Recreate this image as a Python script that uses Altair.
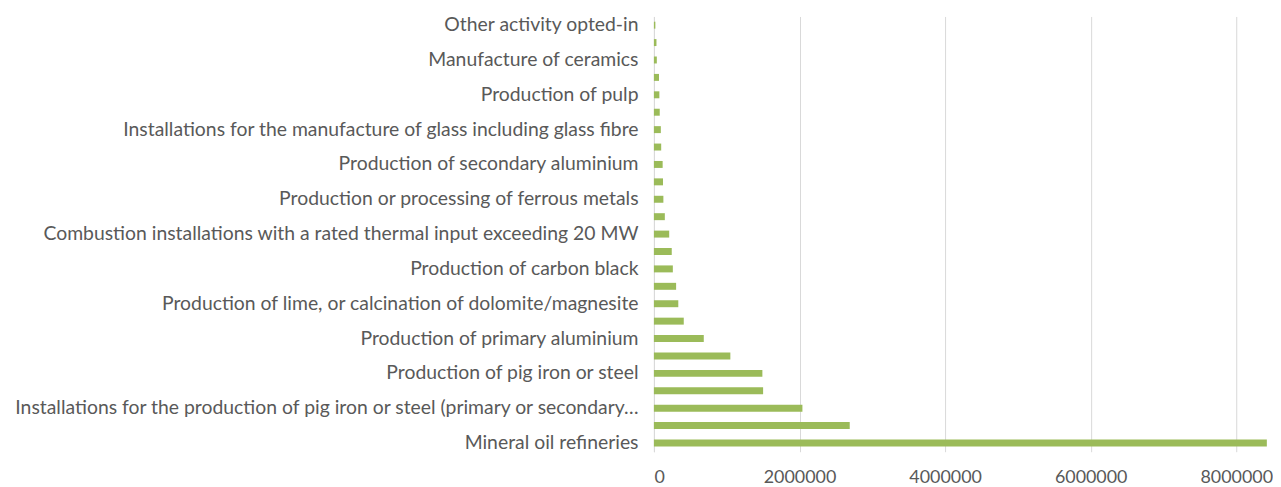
import altair as alt
import pandas as pd

# Categories from top to bottom (only every other one is labelled in the reference)
categories = [
    "Other activity opted-in",
    "Production of gypsum or plaster",
    "Manufacture of ceramics",
    "Manufacture of mineral wool",
    "Production of pulp",
    "Production of nitric acid",
    "Installations for the manufacture of glass including glass fibre",
    "Production of non-ferrous metals",
    "Production of secondary aluminium",
    "Production of bulk organic chemicals",
    "Production or processing of ferrous metals",
    "Production of hydrogen and synthesis gas",
    "Combustion installations with a rated thermal input exceeding 20 MW",
    "Production of ammonia",
    "Production of carbon black",
    "Production of soda ash and sodium bicarbonate",
    "Production of lime, or calcination of dolomite/magnesite",
    "Production of paper or cardboard",
    "Production of primary aluminium",
    "Production of cement clinker",
    "Production of pig iron or steel",
    "Production of coke",
    "Installations for the production of pig iron or steel (primary or secondary…",
    "Combustion of fuels",
    "Mineral oil refineries",
]

values = [
    20000, 35000, 40000, 70000, 75000, 80000, 95000, 100000, 120000,
    125000, 130000, 150000, 210000, 245000, 260000, 305000, 335000,
    410000, 685000, 1050000, 1490000, 1500000, 2040000, 2690000, 8420000,
]

shown_labels = categories[0::2]
x_ticks = [0, 2000000, 4000000, 6000000, 8000000]

df = pd.DataFrame({"activity": categories, "value": values})

font = "Lato"
text_color = "#595959"

chart = (
    alt.Chart(df)
    .mark_bar(color="#9BBB59")
    .encode(
        x=alt.X(
            "value:Q",
            scale=alt.Scale(domain=[0, 8450000], nice=False, zero=True),
            axis=alt.Axis(
                title=None,
                values=x_ticks,
                format="d",
                grid=True,
                gridColor="#d9d9d9",
                gridWidth=1,
                domain=False,
                ticks=False,
                labelFont=font,
                labelFontSize=18,
                labelColor=text_color,
                labelPadding=17,
                labelOverlap=False,
            ),
        ),
        y=alt.Y(
            "activity:N",
            sort=categories,
            scale=alt.Scale(paddingInner=0.6, paddingOuter=0.3),
            axis=alt.Axis(
                title=None,
                values=shown_labels,
                domain=True,
                domainColor="#d9d9d9",
                domainWidth=1,
                ticks=False,
                labelFont=font,
                labelFontSize=19.5,
                labelColor=text_color,
                labelPadding=16,
                labelLimit=800,
                labelOverlap=False,
            ),
        ),
    )
    .properties(
        width=619,
        height=438,
        autosize=alt.AutoSizeParams(type="none"),
        padding={"left": 650, "top": 7, "right": 4, "bottom": 34},
    )
    .configure_view(stroke=None)
)

chart.save("out.html", embed_options={"renderer": "svg", "actions": False})
